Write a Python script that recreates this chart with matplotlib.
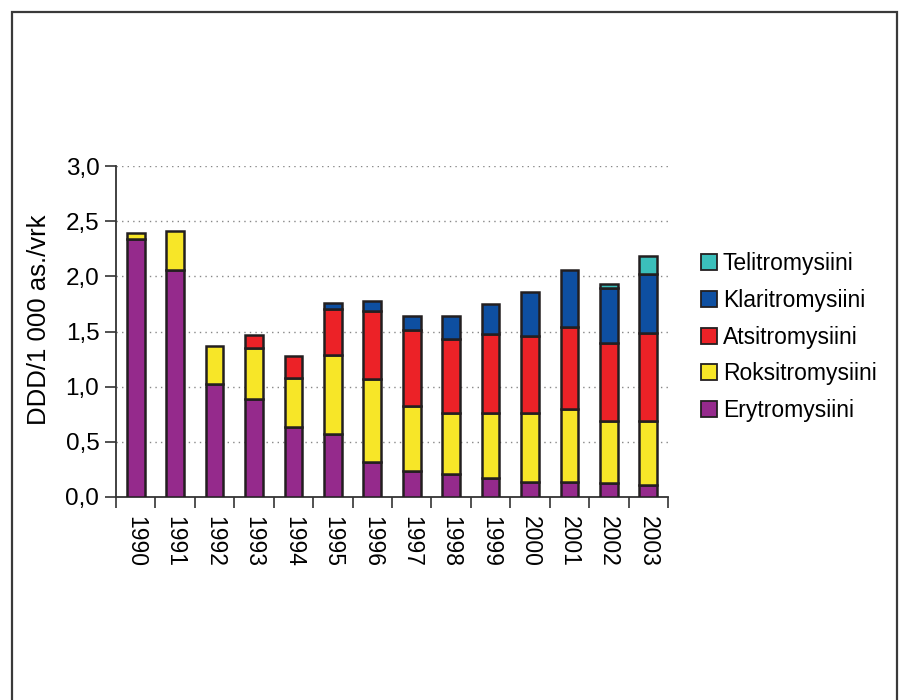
import numpy as np
import matplotlib.pyplot as plt
from matplotlib.patches import Rectangle, Patch
from matplotlib.ticker import FuncFormatter

years = ['1990', '1991', '1992', '1993', '1994', '1995', '1996',
         '1997', '1998', '1999', '2000', '2001', '2002', '2003']

erytromysiini = [2.34, 2.06, 1.02, 0.89, 0.635, 0.57, 0.32, 0.235, 0.205, 0.17, 0.14, 0.14, 0.125, 0.105]
roksitromysiini = [0.05, 0.35, 0.35, 0.46, 0.445, 0.72, 0.75, 0.59, 0.555, 0.59, 0.62, 0.655, 0.56, 0.58]
atsitromysiini = [0, 0, 0, 0.115, 0.195, 0.41, 0.62, 0.685, 0.67, 0.72, 0.70, 0.75, 0.715, 0.80]
klaritromysiini = [0, 0, 0, 0, 0, 0.055, 0.085, 0.135, 0.21, 0.27, 0.40, 0.51, 0.495, 0.54]
telitromysiini = [0, 0, 0, 0, 0, 0, 0, 0, 0, 0, 0, 0, 0.035, 0.16]

series = [
    ('Erytromysiini', erytromysiini, '#952a8c'),
    ('Roksitromysiini', roksitromysiini, '#f7e628'),
    ('Atsitromysiini', atsitromysiini, '#ec2227'),
    ('Klaritromysiini', klaritromysiini, '#0e4fa1'),
    ('Telitromysiini', telitromysiini, '#3bbfbb'),
]

plt.rcParams['font.family'] = ['Liberation Sans', 'DejaVu Sans']

fig = plt.figure(figsize=(8.99, 7.0), dpi=100)
ax = fig.add_axes([116 / 899, 1 - 497 / 700, (668 - 116) / 899, (497 - 166) / 700])

# outer frame
fig.patches.append(Rectangle((11.5 / 899, -0.05), (897 - 11.5) / 899, 1.05 - 12 / 700,
                             transform=fig.transFigure, fill=False,
                             edgecolor='#3a3a3a', linewidth=1.6))

x = np.arange(len(years))
bottom = np.zeros(len(years))
handles = []
for name, vals, color in series:
    vals = np.array(vals)
    mask = vals > 0
    ax.bar(x[mask], vals[mask], bottom=bottom[mask], width=0.45, color=color,
           edgecolor='#231f20', linewidth=1.8, zorder=3)
    bottom += vals
    handles.append(Patch(facecolor=color, edgecolor='#231f20', linewidth=1.3, label=name))

ax.set_xlim(-0.5, len(years) - 0.5)
ax.set_ylim(0, 3.0)
ax.set_yticks(np.arange(0, 3.01, 0.5))
ax.yaxis.set_major_formatter(FuncFormatter(lambda v, p: f'{v:.1f}'.replace('.', ',')))
for yv in np.arange(0.5, 3.01, 0.5):
    ax.axhline(yv, color='#888888', linestyle=(0, (1, 3)), linewidth=1.0, zorder=1)

ax.set_xticks(x)
ax.set_xticklabels(years, rotation=270, fontsize=16.5)
ax.tick_params(axis='x', length=0, pad=14)
ax.set_xticks(np.arange(-0.5, len(years)), minor=True)
ax.tick_params(axis='x', which='minor', length=8, width=1.2, color='#333333', direction='out')
ax.tick_params(axis='y', length=8, width=1.2, color='#333333', labelsize=17.5, pad=4)

for side in ['top', 'right']:
    ax.spines[side].set_visible(False)
ax.spines['left'].set_linewidth(1.3)
ax.spines['bottom'].set_linewidth(1.3)
ax.spines['left'].set_color('#333333')
ax.spines['bottom'].set_color('#333333')

ax.set_ylabel('DDD/1 000 as./vrk', fontsize=18.5)
ax.yaxis.set_label_coords(-0.117, 0.535)

fig.legend(handles=handles[::-1], loc='upper left',
           bbox_to_anchor=(692 / 899, 1 - 243 / 700), frameon=False,
           fontsize=16.5, handlelength=0.7, handleheight=0.7, handletextpad=0.25,
           labelspacing=0.6, borderaxespad=0)

fig.savefig('out.png', dpi=100)
